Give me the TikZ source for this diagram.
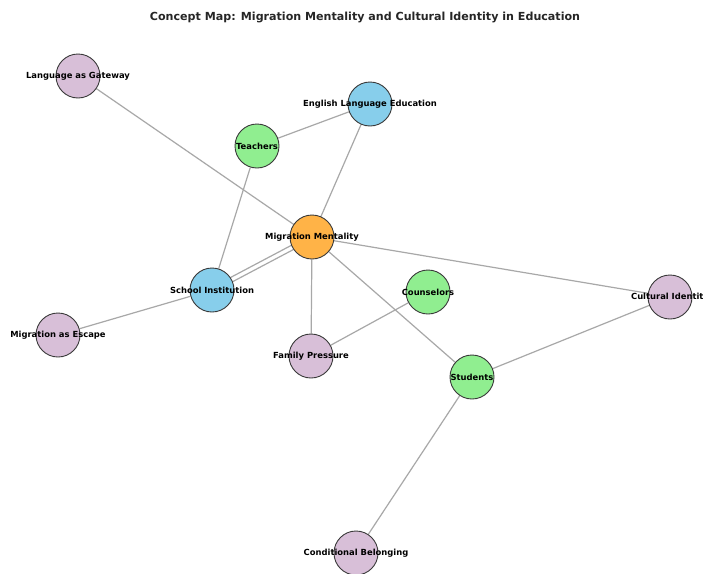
\documentclass[tikz,border=0pt]{standalone}
\usepackage{fontspec}
\setmainfont{DejaVu Sans}
\usetikzlibrary{backgrounds}
\pgfdeclarelayer{bgfill}
\pgfsetlayers{bgfill,background,main}
\definecolor{cpurple}{HTML}{D8BFD8}
\definecolor{cblue}{HTML}{87CEEB}
\definecolor{cgreen}{HTML}{90EE90}
\definecolor{corange}{HTML}{FFB347}
\definecolor{cedge}{HTML}{A8A8A8}
\definecolor{cborder}{HTML}{3A3A3A}
\tikzset{
  concept/.style={circle, minimum size=44pt, inner sep=0pt, draw=cborder, line width=0.9pt},
  purplenode/.style={concept, fill=cpurple},
  bluenode/.style={concept, fill=cblue},
  greennode/.style={concept, fill=cgreen},
  orangenode/.style={concept, fill=corange},
  lbl/.style={font=\bfseries\fontsize{8.4}{10}\selectfont, inner sep=0pt},
  edge/.style={draw=cedge, line width=1.2pt},
}
\begin{document}
\begin{tikzpicture}[x=1pt,y=-1pt]
\useasboundingbox (0,0) rectangle (703,573);
\clip (0,0) rectangle (703,573);
\begin{pgfonlayer}{bgfill}
\fill[white] (0,0) rectangle (703,573);
\end{pgfonlayer}
\node[font=\bfseries\fontsize{11.1}{13}\selectfont, text=black!85] (title) at (365,17) {Concept Map: Migration Mentality and Cultural Identity in Education};
% nodes
\node[purplenode] (lg) at (78,76) {};
\node[bluenode] (ele) at (370,104) {};
\node[greennode] (tea) at (257,146) {};
\node[orangenode] (mm) at (312,237) {};
\node[bluenode] (si) at (212,290) {};
\node[greennode] (cou) at (428,292) {};
\node[purplenode] (ci) at (670,297) {};
\node[purplenode] (me) at (58,335) {};
\node[purplenode] (fp) at (311,356) {};
\node[greennode] (stu) at (472,377) {};
\node[purplenode] (cb) at (356,553) {};
% labels
\node[lbl] at (lg) {Language as Gateway};
\node[lbl] at (ele) {English Language Education};
\node[lbl] at (tea) {Teachers};
\node[lbl] at (mm) {Migration Mentality};
\node[lbl] at (si) {School Institution};
\node[lbl] at (cou) {Counselors};
\node[lbl] at (ci) {Cultural Identity};
\node[lbl] at (me) {Migration as Escape};
\node[lbl] at (fp) {Family Pressure};
\node[lbl] at (stu) {Students};
\node[lbl] at (cb) {Conditional Belonging};
% edges
\begin{pgfonlayer}{background}
\draw[edge] (lg) -- (mm);
\draw[edge] (ele) -- (tea);
\draw[edge] (ele) -- (mm);
\draw[edge] (tea) -- (si);
\draw[edge] (si.34) -- (mm.202);
\draw[edge] (si.22) -- (mm.214);
\draw[edge] (mm) -- (ci);
\draw[edge] (mm) -- (fp);
\draw[edge] (mm) -- (stu);
\draw[edge] (si) -- (me);
\draw[edge] (cou) -- (fp);
\draw[edge] (ci) -- (stu);
\draw[edge] (stu) -- (cb);
\end{pgfonlayer}
\end{tikzpicture}
\end{document}
